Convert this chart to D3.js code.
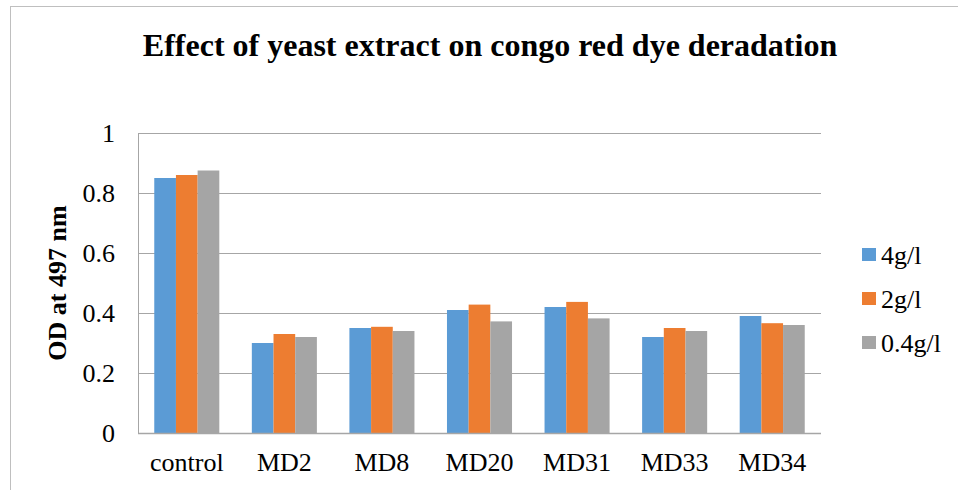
<!DOCTYPE html>
<html>
<head>
<meta charset="utf-8">
<script src="https://cdn.jsdelivr.net/npm/d3@7"></script>
<style>
  html, body { margin: 0; padding: 0; background: #fff; }
  svg { display: block; }
</style>
</head>
<body>
<svg id="chart" width="958" height="490"></svg>
<script>
// Samples along the x axis
const categories = ["control", "MD2", "MD8", "MD20", "MD31", "MD33", "MD34"];
// Yeast extract concentrations (one series each)
const seriesNames = ["4g/l", "2g/l", "0.4g/l"];
const values4 = [0.85, 0.30, 0.35, 0.41, 0.42, 0.32, 0.39];
const values2 = [0.86, 0.33, 0.354, 0.428, 0.437, 0.35, 0.366];
const values04 = [0.875, 0.32, 0.34, 0.372, 0.382, 0.34, 0.36];
const yTicks = [0, 0.2, 0.4, 0.6, 0.8, 1];
const colors = ["#5B9BD5", "#ED7D31", "#A5A5A5"];

const seriesValues = [values4, values2, values04];

const svg = d3.select("#chart");
const W = 958, H = 490;
const plot = { left: 138, right: 821, top: 133, bottom: 433 };

// Outer chart frame (runs off the right and bottom edges)
svg.append("rect")
  .attr("x", 10.5).attr("y", 6.5)
  .attr("width", W + 10).attr("height", H + 10)
  .attr("fill", "none").attr("stroke", "#bfbfbf").attr("stroke-width", 1);

// Title
svg.append("text")
  .attr("x", 490).attr("y", 56)
  .attr("text-anchor", "middle")
  .attr("font-family", "'Liberation Serif', 'Times New Roman', serif")
  .attr("font-weight", "bold")
  .attr("font-size", 32)
  .attr("fill", "#000")
  .text("Effect of yeast extract on congo red dye deradation");

const x0 = d3.scaleBand()
  .domain(categories)
  .range([plot.left, plot.right])
  .paddingInner(1 / 3)
  .paddingOuter(1 / 6);

const x1 = d3.scaleBand()
  .domain(seriesNames)
  .range([0, x0.bandwidth()]);

const y = d3.scaleLinear()
  .domain([0, 1])
  .range([plot.bottom, plot.top]);

// Horizontal gridlines
svg.append("g")
  .selectAll("line")
  .data(yTicks.filter(t => t > 0))
  .join("line")
  .attr("x1", plot.left).attr("x2", plot.right)
  .attr("y1", d => Math.round(y(d)) + 0.5)
  .attr("y2", d => Math.round(y(d)) + 0.5)
  .attr("stroke", "#a6a6a6").attr("stroke-width", 1);

// Bars
const groups = svg.append("g")
  .selectAll("g")
  .data(categories)
  .join("g")
  .attr("transform", d => `translate(${x0(d)},0)`);

groups.selectAll("rect")
  .data((d, i) => seriesNames.map((s, j) => ({ s, v: seriesValues[j][i], c: colors[j] })))
  .join("rect")
  .attr("x", d => x1(d.s))
  .attr("y", d => y(d.v))
  .attr("width", x1.bandwidth())
  .attr("height", d => y(0) - y(d.v))
  .attr("fill", d => d.c);

// Left axis line and baseline
svg.append("line")
  .attr("x1", plot.left + 0.5).attr("x2", plot.left + 0.5)
  .attr("y1", plot.top).attr("y2", plot.bottom + 1)
  .attr("stroke", "#a6a6a6").attr("stroke-width", 1);
svg.append("line")
  .attr("x1", plot.left).attr("x2", plot.right)
  .attr("y1", plot.bottom + 0.5).attr("y2", plot.bottom + 0.5)
  .attr("stroke", "#a6a6a6").attr("stroke-width", 1.5);

const serif = "'Liberation Serif', 'Times New Roman', serif";

// Y axis tick labels
const yAxis = d3.axisLeft(y).tickValues(yTicks).tickSize(0).tickPadding(23)
  .tickFormat(d => d3.format("~g")(d));
const gy = svg.append("g").attr("transform", `translate(${plot.left},0)`).call(yAxis);
gy.select(".domain").remove();
gy.selectAll("text")
  .attr("font-family", serif).attr("font-size", 26).attr("fill", "#000");

// X axis category labels
const xAxis = d3.axisBottom(x0).tickSize(0).tickPadding(20);
const gx = svg.append("g").attr("transform", `translate(0,${plot.bottom})`).call(xAxis);
gx.select(".domain").remove();
gx.selectAll("text")
  .attr("font-family", serif).attr("font-size", 26).attr("fill", "#000");

// Y axis title
svg.append("text")
  .attr("transform", `translate(66,${(plot.top + plot.bottom) / 2}) rotate(-90)`)
  .attr("text-anchor", "middle")
  .attr("font-family", serif).attr("font-weight", "bold").attr("font-size", 26)
  .attr("fill", "#000")
  .text("OD at 497 nm");

// Legend
const legend = svg.append("g")
  .selectAll("g")
  .data(seriesNames)
  .join("g")
  .attr("transform", (d, i) => `translate(862,${254.5 + i * 44})`);
legend.append("rect")
  .attr("x", 0).attr("y", -6.5).attr("width", 14).attr("height", 13)
  .attr("fill", (d, i) => colors[i]);
legend.append("text")
  .attr("x", 19).attr("y", 9)
  .attr("font-family", serif).attr("font-size", 26).attr("fill", "#000")
  .text(d => d);
</script>
</body>
</html>
